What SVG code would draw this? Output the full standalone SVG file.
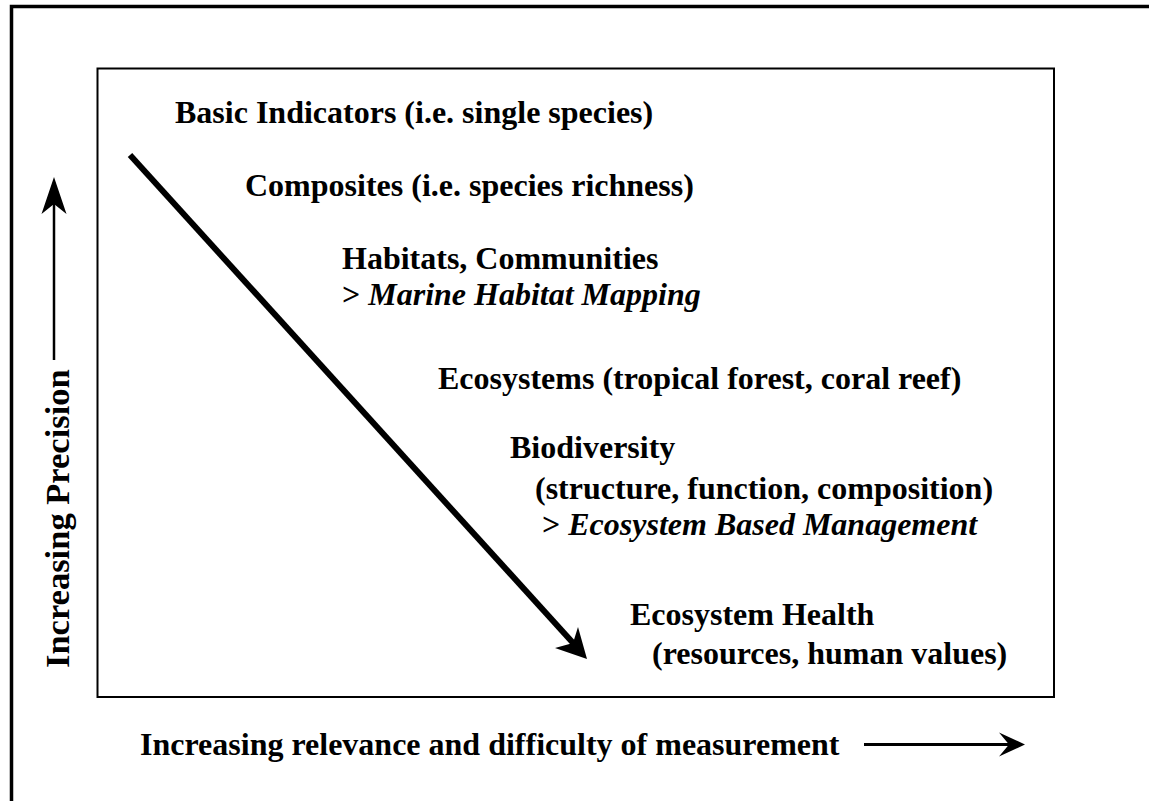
<svg xmlns="http://www.w3.org/2000/svg" width="1149" height="801" viewBox="0 0 1149 801">
<style>
.t{font-family:"Liberation Serif","Times New Roman",serif;font-weight:bold;font-size:32px;fill:#000}
.i{font-style:italic}
.frame{fill:none;stroke:#000}
.ln{fill:none;stroke:#000}
.hd{fill:#000;stroke:none}
</style>
<rect width="1149" height="801" fill="#fff"/>
<path class="frame" d="M11.5,801 V6.5 H1149" stroke-width="3.5"/>
<rect class="frame" x="97.5" y="68.5" width="956.5" height="628.5" stroke-width="2"/>
<g id="connectors">
<g id="diag-arrow">
<line class="ln" x1="130" y1="155" x2="574" y2="644" stroke-width="6"/>
<polygon class="hd" points="587,659 578,627 573,643 555,648"/>
</g>
<g id="precision-arrow">
<line class="ln" x1="54" y1="360" x2="54" y2="200" stroke-width="2.5"/>
<polygon class="hd" points="54,177 66.5,214 54,204 41.5,214"/>
</g>
<g id="relevance-arrow">
<line class="ln" x1="864" y1="744.5" x2="1012" y2="744.5" stroke-width="3"/>
<polygon class="hd" points="1025,744.5 999,732.5 1009,744.5 999,756.5"/>
</g>
</g>
<g id="basic"><text class="t" x="175" y="123">Basic Indicators (i.e. single species)</text></g>
<g id="composites"><text class="t" x="245" y="196">Composites (i.e. species richness)</text></g>
<g id="habitats">
<text class="t" x="342" y="269">Habitats, Communities</text>
<text class="t" x="342" y="305"><tspan>&gt; </tspan><tspan class="i">Marine Habitat Mapping</tspan></text>
</g>
<g id="ecosystems"><text class="t" x="438" y="389">Ecosystems (tropical forest, coral reef)</text></g>
<g id="biodiversity">
<text class="t" x="510" y="458">Biodiversity</text>
<text class="t" x="535" y="499">(structure, function, composition)</text>
<text class="t" x="542" y="535"><tspan>&gt; </tspan><tspan class="i">Ecosystem Based Management</tspan></text>
</g>
<g id="health">
<text class="t" x="630" y="625">Ecosystem Health</text>
<text class="t" x="652" y="664">(resources, human values)</text>
</g>
<g id="x-label"><text class="t" x="140" y="755">Increasing relevance and difficulty of measurement</text></g>
<g id="y-label"><text class="t" style="font-size:34.5px" transform="translate(69,668) rotate(-90)" x="0" y="0">Increasing Precision</text></g>
</svg>
